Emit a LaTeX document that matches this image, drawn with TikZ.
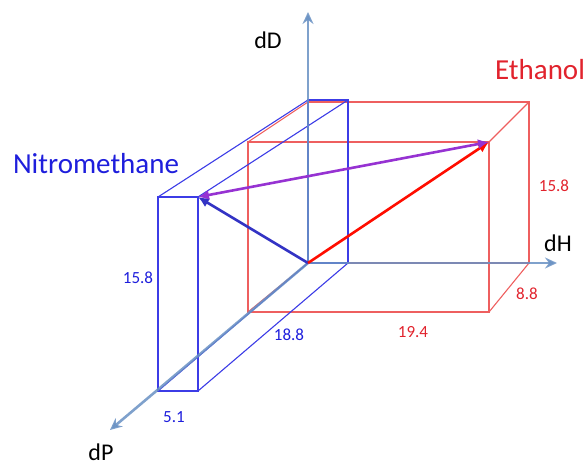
\documentclass[tikz,border=0pt]{standalone}
\usepackage{fontspec}
\setmainfont{Carlito}
\usetikzlibrary{arrows.meta}
\definecolor{axiscol}{RGB}{105,145,195}
\definecolor{boxblue}{RGB}{60,60,230}
\definecolor{boxred}{RGB}{238,95,95}
\definecolor{txtblue}{RGB}{30,30,220}
\definecolor{txtred}{RGB}{225,35,45}
\definecolor{mixpurple}{RGB}{150,50,210}
\tikzset{
  axis/.style={axiscol,line width=2.6pt,opacity=0.85,-{Stealth[length=12pt,width=11pt,inset=4pt]}},
  edge/.style={line width=1.1pt},
  vec/.style={line width=2.6pt,-{Latex[length=11pt,width=10pt]}},
  numlbl/.style={font=\fontsize{17}{19}\selectfont},
  axlbl/.style={font=\fontsize{24}{26}\selectfont},
  namelbl/.style={font=\fontsize{29}{31}\selectfont}
}

\begin{document}
\begin{tikzpicture}[x=1pt,y=-1pt]
  \useasboundingbox (0,0) rectangle (588,468);
  % origin and axis ends
  \coordinate (O) at (308,263);
  \coordinate (Dend) at (308,12);
  \coordinate (Hend) at (557,263);
  \coordinate (Pend) at (110,430);
  % ethanol box: back face r, front face s
  \coordinate (r1) at (308,263); \coordinate (r2) at (529,263);
  \coordinate (r3) at (529,102); \coordinate (r4) at (308,102);
  \coordinate (s1) at (248,312); \coordinate (s2) at (489,312);
  \coordinate (s3) at (489,142); \coordinate (s4) at (248,142);
  % nitromethane box: back face b, front face f
  \coordinate (b1) at (308,263); \coordinate (b2) at (348,263);
  \coordinate (b3) at (348,100); \coordinate (b4) at (308,100);
  \coordinate (f1) at (158,391); \coordinate (f2) at (198,391);
  \coordinate (f3) at (198,197); \coordinate (f4) at (158,197);
  % boxes
  \draw[edge,boxred] (r1) -- (r2) -- (r3) -- (r4) -- cycle;
  \draw[edge,boxred] (s1) -- (s2) -- (s3) -- (s4) -- cycle;
  \foreach \i in {1,...,4}
    \draw[edge,boxred] (r\i) -- (s\i);
  \draw[edge,boxblue] (b1) -- (b2) -- (b3) -- (b4) -- cycle;
  \draw[edge,boxblue] (f1) -- (f2) -- (f3) -- (f4) -- cycle;
  \foreach \i in {1,...,4}
    \draw[edge,boxblue] (b\i) -- (f\i);
  % axes
  \draw[axis] (O) -- (Dend);
  \draw[axis] (O) -- (Hend);
  \draw[axis] (O) -- (Pend);
  % solvent vectors and the distance between them
  \draw[vec,boxblue!85!black] (O) -- (f3);
  \draw[vec,red!90!orange] (O) -- (s3);
  \draw[vec,mixpurple,{Latex[length=11pt,width=10pt]}-{Latex[length=11pt,width=10pt]}] (f3) -- (s3);
  % labels
  \node[axlbl] (lblD) at (268,40) {dD};
  \node[axlbl] (lblH) at (558,243) {dH};
  \node[axlbl] (lblP) at (101,452) {dP};
  \node[namelbl,txtred] (lblEth) at (540,70) {Ethanol};
  \node[namelbl,txtblue] (lblNit) at (96,164) {Nitromethane};
  \node[numlbl,txtred] (ethD) at (554,186) {15.8};
  \node[numlbl,txtred] (ethP) at (527,294) {8.8};
  \node[numlbl,txtred] (ethH) at (413,332) {19.4};
  \node[numlbl,txtblue] (nitP) at (289,335) {18.8};
  \node[numlbl,txtblue] (nitD) at (138,278) {15.8};
  \node[numlbl,txtblue] (nitH) at (174,417) {5.1};
\end{tikzpicture}
\end{document}
